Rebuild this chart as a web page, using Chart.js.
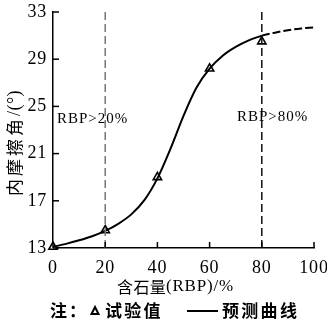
<!DOCTYPE html>
<html><head><meta charset="utf-8">
<script src="https://cdn.jsdelivr.net/npm/chart.js@4"></script>
<style>html,body{margin:0;padding:0;background:#fff}canvas{display:block}</style>
</head><body>
<canvas id="c" width="327" height="324"></canvas>
<script>
const xTicks = [0, 20, 40, 60, 80, 100];
const yTicks = [13, 17, 21, 25, 29, 33];
const testX = [0, 20, 40, 60, 80];
const testY = [13.1, 14.5, 19.0, 28.2, 30.5];
const curveX = [0, 5, 10, 15, 20, 25, 30, 35, 40, 45, 50, 55, 60, 65, 70, 75, 80];
const curveY = [13.1, 13.35, 13.65, 14.0, 14.45, 15.05, 15.85, 17.05, 18.9, 21.4, 24.2, 26.6, 28.2, 29.3, 30.05, 30.6, 31.0];
const extX = [80, 85, 90, 95, 100];
const extY = [31.0, 31.25, 31.45, 31.6, 31.7];
const refX = [20, 80];
const refLabels = ['RBP>20%', 'RBP>80%'];
const xTitle = ['含石量', '(RBP)/%'];
const yTitle = ['内摩擦角', '/(°)'];
const noteText = ['注：', '试验值', '预测曲线'];

const SERIF = "'Liberation Serif','Times New Roman',serif";
const CJK = "'Noto Sans CJK SC','Noto Sans',sans-serif";

const zip = (xs, ys) => xs.map((v, i) => ({x: v, y: ys[i]}));

function drawSegs(ctx, segs, x, y) {
  let cx = x;
  segs.forEach(s => {
    ctx.font = s.f; ctx.letterSpacing = (s.ls || 0) + 'px';
    ctx.fillText(s.t, cx, y);
    cx += ctx.measureText(s.t).width;
  });
  return cx;
}
function segsWidth(ctx, segs) {
  let w = 0;
  segs.forEach(s => { ctx.font = s.f; ctx.letterSpacing = (s.ls || 0) + 'px'; w += ctx.measureText(s.t).width; });
  return w;
}

const deco = {
  id: 'deco',
  beforeDraw(chart) { chart.ctx.letterSpacing = '0.8px'; },
  afterDraw(chart) {
    const {ctx, chartArea: a, scales: {x, y}} = chart;
    ctx.save();
    ctx.strokeStyle = '#000'; ctx.lineWidth = 1.5;
    xTicks.forEach(v => { const px = x.getPixelForValue(v); ctx.beginPath(); ctx.moveTo(px, a.bottom); ctx.lineTo(px, a.bottom - 6); ctx.stroke(); });
    yTicks.forEach(v => { const py = y.getPixelForValue(v); ctx.beginPath(); ctx.moveTo(a.left, py); ctx.lineTo(a.left + 6, py); ctx.stroke(); });

    ctx.fillStyle = '#000';
    ctx.textBaseline = 'middle'; ctx.textAlign = 'left';
    // reference labels
    ctx.font = '15px ' + SERIF; ctx.letterSpacing = '1px';
    ctx.fillText(refLabels[0], x.getPixelForValue(1.5), y.getPixelForValue(23.9));
    ctx.fillText(refLabels[1], x.getPixelForValue(70.5), y.getPixelForValue(24.1));

    // x title
    const xs = [{t: xTitle[0], f: '16px ' + CJK, ls: 0.3}, {t: xTitle[1], f: '17px ' + SERIF, ls: 0.8}];
    const xw = segsWidth(ctx, xs);
    drawSegs(ctx, xs, 175.5 - xw / 2, 287);

    // y title
    const ys = [{t: yTitle[0], f: '17px ' + CJK, ls: 3}, {t: yTitle[1], f: '18px ' + SERIF, ls: 0.5}];
    const yw = segsWidth(ctx, ys);
    ctx.save();
    ctx.translate(15, 143); ctx.rotate(-Math.PI / 2);
    drawSegs(ctx, ys, -yw / 2, 0);
    ctx.restore();

    // note
    const nf = 'bold 17px ' + CJK;
    drawSegs(ctx, [{t: noteText[0], f: nf, ls: 2}], 50, 311);
    ctx.lineWidth = 2;
    ctx.beginPath(); ctx.moveTo(95, 307); ctx.lineTo(98.5, 314); ctx.lineTo(91.5, 314); ctx.closePath(); ctx.stroke();
    drawSegs(ctx, [{t: noteText[1], f: nf, ls: 2.3}], 105, 311);
    ctx.beginPath(); ctx.moveTo(187, 311); ctx.lineTo(218, 311); ctx.stroke();
    drawSegs(ctx, [{t: noteText[2], f: nf, ls: 2.3}], 222, 311);
    ctx.restore();
  }
};

new Chart(document.getElementById('c'), {
  type: 'line',
  data: {
    datasets: [
      {data: [{x: refX[0], y: 13}, {x: refX[0], y: 33}], borderColor: '#777', borderWidth: 1.5, borderDash: [8, 4], pointRadius: 0},
      {data: [{x: refX[1], y: 13}, {x: refX[1], y: 33}], borderColor: '#111', borderWidth: 1.5, borderDash: [8, 4], pointRadius: 0},
      {data: zip(curveX, curveY), borderColor: '#000', borderWidth: 2, pointRadius: 0, cubicInterpolationMode: 'monotone'},
      {data: zip(extX, extY), borderColor: '#000', borderWidth: 2, borderDash: [8, 3], pointRadius: 0, cubicInterpolationMode: 'monotone'},
      {data: zip(testX, testY), showLine: false, pointStyle: 'triangle', pointRadius: 4.8, pointBorderWidth: 1.6,
       pointBorderColor: '#000', pointBackgroundColor: '#fff', clip: false}
    ]
  },
  options: {
    responsive: false, animation: false,
    layout: {padding: {top: 12, right: 13, left: 0, bottom: 0}},
    plugins: {legend: {display: false}, tooltip: {enabled: false}},
    scales: {
      x: {type: 'linear', min: 0, max: 100,
        afterBuildTicks: s => { s.ticks = xTicks.map(v => ({value: v})); },
        afterFit: s => { s.height = 76; s.paddingLeft = 0; s.paddingRight = 0; },
        grid: {display: false, drawTicks: false},
        border: {display: true, color: '#000', width: 1.5},
        ticks: {padding: 9, color: '#000', font: {family: SERIF, size: 18}, maxRotation: 0, autoSkip: false}},
      y: {type: 'linear', min: 13, max: 33,
        afterBuildTicks: s => { s.ticks = yTicks.map(v => ({value: v})); },
        afterFit: s => { s.width = 53; s.paddingTop = 0; s.paddingBottom = 0; },
        grid: {display: false, drawTicks: false},
        border: {display: true, color: '#000', width: 1.5},
        ticks: {padding: 6, color: '#000', font: {family: SERIF, size: 18}, autoSkip: false}}
    }
  },
  plugins: [deco]
});
</script>
</body></html>
